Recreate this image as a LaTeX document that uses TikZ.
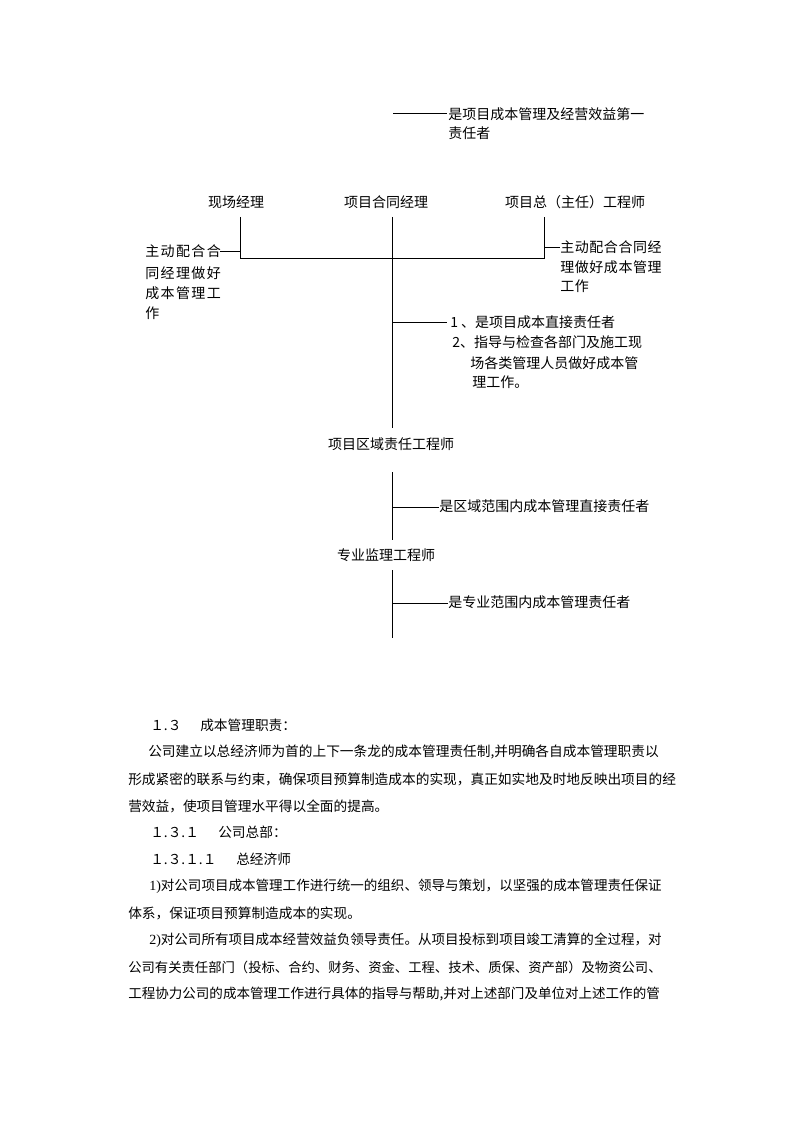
\documentclass[tikz,border=0pt]{standalone}
\usepackage{fontspec}
\setmainfont{Noto Sans CJK SC}
\newfontfamily\cjkwide[LetterSpace=10]{Noto Sans CJK SC}
\newfontfamily\cjkmid[LetterSpace=4]{Noto Sans CJK SC}
\newfontfamily\tnr{Liberation Serif}
\newcommand\dfont{\fontsize{10.5pt}{12pt}\selectfont}
\newcommand\pfont{\fontsize{10.27pt}{12pt}\selectfont}
\newcommand\qfont{\fontsize{10.15pt}{12pt}\selectfont}
\tikzset{
  lbl/.style={inner sep=0pt, anchor=west, font=\dfont},
  role/.style={inner sep=0pt, font=\dfont},
  para/.style={inner sep=0pt, anchor=west, font=\pfont},
  ln/.style={line width=0.75pt, black},
}
\begin{document}
\begin{tikzpicture}[x=0.75pt, y=-0.75pt]
\fill[white] (0,0) rectangle (794,1123);
\useasboundingbox (0,0) rectangle (794,1123);

% top remark
\coordinate (topL) at (393,114);
\node[lbl] (top1) at (448,114) {是项目成本管理及经营效益第一};
\node[lbl] (top2) at (448,133) {责任者};
\draw[ln] (topL) -- ([xshift=-0.75pt]top1.west);

% roles
\node[role] (xc) at (236,202) {现场经理};
\node[role] (ht) at (386,202) {项目合同经理};
\node[role] (zg) at (575,202) {项目总（主任）工程师};

\coordinate (a1) at (240,217);
\coordinate (a2) at (240,258);
\coordinate (ad) at (240,251);
\coordinate (b1) at (392,217);
\coordinate (bb) at (392,322);
\coordinate (b3) at (392,428);
\coordinate (c1) at (544,217);
\coordinate (c2) at (544,258);
\coordinate (cd) at (544,247);

\draw[ln] (a1) -- (a2) -- (c2) -- (c1);
\draw[ln] (b1) -- (b3);

% left remark
\node[lbl, font=\dfont\cjkwide] (lt1) at (145,251) {主动配合合};
\node[lbl, font=\dfont\cjkwide] (lt2) at (145,273) {同经理做好};
\node[lbl, font=\dfont\cjkwide] (lt3) at (145,293) {成本管理工};
\node[lbl, font=\dfont\cjkwide] (lt4) at (145,313) {作};
\draw[ln] ([xshift=-1pt]lt1.east) -- (ad);

% right remark
\node[lbl, font=\dfont\cjkmid] (rt1) at (560,247) {主动配合合同经};
\node[lbl, font=\dfont\cjkmid] (rt2) at (560,267) {理做好成本管理};
\node[lbl, font=\dfont\cjkmid] (rt3) at (560,286) {工作};
\draw[ln] (cd) -- (rt1.west);

% centre remark
\node[lbl] (m1) at (450,322) {1 、是项目成本直接责任者};
\node[lbl] (m2) at (452,342) {2、指导与检查各部门及施工现};
\node[lbl] (m3) at (470,363) {场各类管理人员做好成本管};
\node[lbl] (m4) at (472,382) {理工作。};
\draw[ln] (bb) -- ([xshift=-2.25pt]m1.west);

% area engineer
\node[role] (qy) at (391,444) {项目区域责任工程师};
\coordinate (d1) at (392,472);
\coordinate (db) at (392,507);
\coordinate (d2) at (392,540);
\draw[ln] (d1) -- (d2);
\node[lbl] (qyt) at (439,506) {是区域范围内成本管理直接责任者};
\draw[ln] (db) -- (db -| qyt.west);

% specialist engineer
\node[role] (zy) at (386,555) {专业监理工程师};
\coordinate (e1) at (392,570);
\coordinate (eb) at (392,603);
\coordinate (e2) at (392,638);
\draw[ln] (e1) -- (e2);
\node[lbl] (zyt) at (448,602) {是专业范围内成本管理责任者};
\draw[ln] (eb) -- (eb -| zyt.west);

% body text
\node[para] (h1n) at (150,725) {１.３};
\node[para] (h1t) at (200,725) {成本管理职责：};
\node[para] (p1) at (148,752) {公司建立以总经济师为首的上下一条龙的成本管理责任制,并明确各自成本管理职责以};
\node[para] (p2) at (128,779) {形成紧密的联系与约束，确保项目预算制造成本的实现，真正如实地及时地反映出项目的经};
\node[para] (p3) at (128,806) {营效益，使项目管理水平得以全面的提高。};
\node[para] (h2n) at (150,832) {１.３.１};
\node[para] (h2t) at (218,832) {公司总部：};
\node[para] (h3n) at (150,859) {１.３.１.１};
\node[para] (h3t) at (236,859) {总经济师};
\node[para, font=\qfont] (p4) at (149,886) {{\tnr\fontsize{10.5pt}{12pt}\selectfont 1)}对公司项目成本管理工作进行统一的组织、领导与策划，以坚强的成本管理责任保证};
\node[para] (p5) at (128,913) {体系，保证项目预算制造成本的实现。};
\node[para, font=\qfont] (p6) at (149,940) {{\tnr\fontsize{10.5pt}{12pt}\selectfont 2)}对公司所有项目成本经营效益负领导责任。从项目投标到项目竣工清算的全过程，对};
\node[para, font=\fontsize{10pt}{12pt}\selectfont] (p7) at (128,967) {公司有关责任部门（投标、合约、财务、资金、工程、技术、质保、资产部）及物资公司、};
\node[para, font=\fontsize{10.15pt}{12pt}\selectfont] (p8) at (128,994) {工程协力公司的成本管理工作进行具体的指导与帮助,并对上述部门及单位对上述工作的管};
\end{tikzpicture}
\end{document}
